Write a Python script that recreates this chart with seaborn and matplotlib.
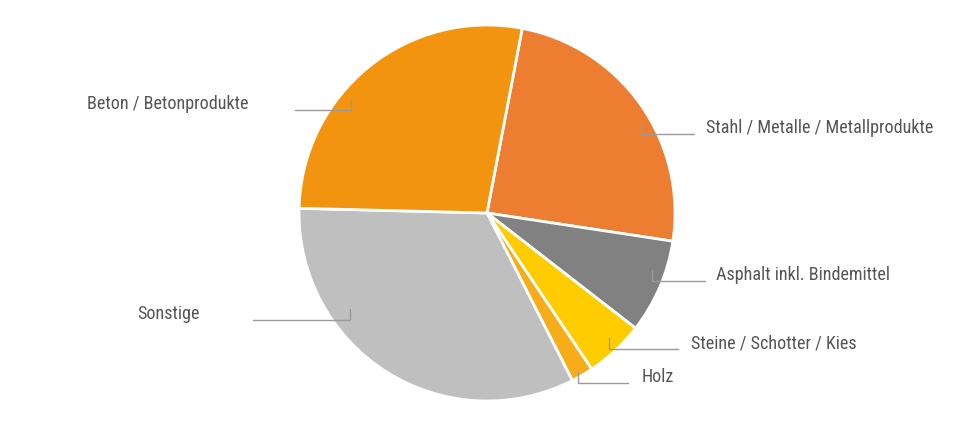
import matplotlib.pyplot as plt
import numpy as np
import seaborn as sns

# shares in percent, clockwise starting right of the top
categories = ["Stahl / Metalle / Metallprodukte", "Asphalt inkl. Bindemittel",
              "Steine / Schotter / Kies", "Holz", "Sonstige", "Beton / Betonprodukte"]
shares = [24.4, 8.1, 5.1, 1.9, 32.9, 27.6]
colors = ["#ED7D31", "#808180", "#FFCC00", "#F7AD1A", "#BFBFBF", "#F39410"]

# leader lines: x of the tick, y of the horizontal line, x where the line ends,
# x of the text edge (pie units, r=1)
label_pos = {
    "Stahl / Metalle / Metallprodukte": (0.819, 0.420, 1.101, 1.165),
    "Asphalt inkl. Bindemittel": (0.876, -0.361, 1.160, 1.216),
    "Steine / Schotter / Kies": (0.649, -0.723, 1.016, 1.085),
    "Holz": (0.484, -0.902, 0.750, 0.822),
    "Sonstige": (-0.729, -0.567, -1.246, -1.527),
    "Beton / Betonprodukte": (-0.723, 0.548, -1.021, -1.271),
}

sns.set_theme(style="white")
plt.rcParams['font.family'] = ['Roboto Condensed', 'Archivo Narrow', 'DejaVu Sans']

fig = plt.figure(figsize=(9.74, 4.32), dpi=100)
ax = fig.add_axes([0, 0, 1, 1])

ax.pie(shares, colors=colors, startangle=90 - 10.8, counterclock=False,
       radius=1.0, center=(0, 0),
       wedgeprops=dict(edgecolor="white", linewidth=2))

tick_h = 0.058
for name in categories:
    tx, ly, ex, lx = label_pos[name]
    ax.plot([tx, tx, ex], [ly + tick_h, ly, ly], color="#9a9a9a", lw=1.0,
            solid_joinstyle="miter")
    ax.text(lx, ly + 0.03, name, ha="left" if ex > tx else "right", va="center",
            fontsize=13.1, color="#555555")

ax.set_xlim(-487 / 188, 487 / 188)
ax.set_ylim(-219 / 188, 213 / 188)
ax.set_aspect("equal")
ax.axis("off")

fig.savefig("out.png", dpi=100, facecolor="white")
